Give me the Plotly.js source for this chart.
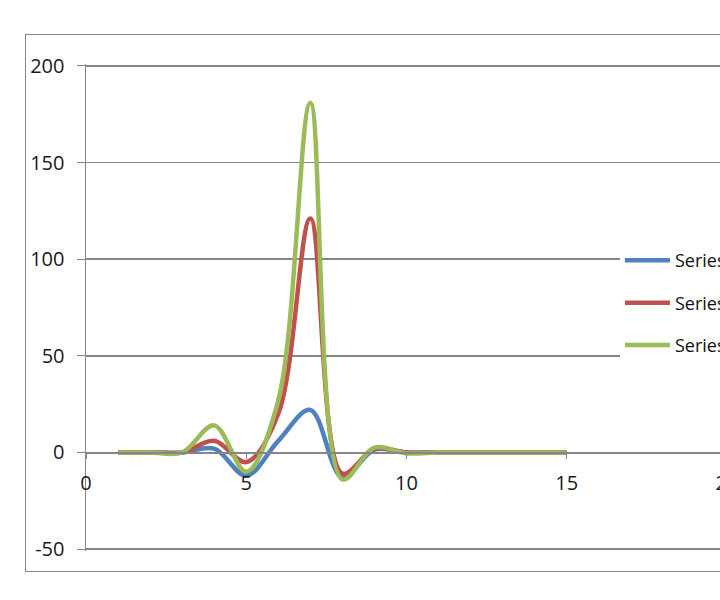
<!DOCTYPE html>
<html>
<head>
<meta charset="utf-8">
<script src="https://cdn.plot.ly/plotly-3.0.1.min.js"></script>
<style>
  html, body { margin: 0; padding: 0; width: 720px; height: 600px; overflow: hidden; background: #fff; }
  #frame { position: absolute; left: 25px; top: 34px; width: 780px; height: 536px; border: 1px solid #878787; }
  #chart { width: 780px; height: 536px; }
</style>
</head>
<body>
<div id="frame"><div id="chart"></div></div>
<script>
const xValues = [1, 2, 3, 4, 5, 6, 7, 8, 9, 10, 11, 12, 13, 14, 15];
const series1 = [0, 0, 0, 2, -12, 6, 22, -13, 1.5, 0, 0, 0, 0, 0, 0];
const series2 = [0, 0, 0, 6, -5, 20, 121, -11, 2, 0, 0, 0, 0, 0, 0];
const series3 = [0, 0, 0, 14, -10, 27, 181, -14, 2.5, -0.5, 0, 0, 0, 0, 0];
const seriesNames = ["Series1", "Series2", "Series3"];
const seriesColors = ["#4F81BD", "#C0504D", "#9BBB59"];
const xTicks = [0, 5, 10, 15, 20];
const yTicks = [-50, 0, 50, 100, 150, 200];

const allSeries = [series1, series2, series3];
const traces = allSeries.map((ys, i) => ({
  type: "scatter",
  mode: "lines",
  x: xValues,
  y: ys,
  name: seriesNames[i],
  legendgroup: "g" + i,
  line: { color: seriesColors[i], width: 4.5, shape: "spline", smoothing: 1 }
}));

const font = "'Open Sans', 'Noto Sans', sans-serif";
const layout = {
  width: 780,
  height: 536,
  margin: { l: 60, r: 79, t: 29, b: 20 },
  paper_bgcolor: "#ffffff",
  plot_bgcolor: "#ffffff",
  font: { family: font, size: 18, color: "#1a1a1a" },
  showlegend: true,
  legend: {
    x: 0.833, xanchor: "left",
    y: 0.509, yanchor: "middle",
    bgcolor: "#ffffff",
    traceorder: "grouped",
    tracegroupgap: 16,
    itemwidth: 45,
    font: { family: font, size: 18, color: "#111111" }
  },
  xaxis: {
    range: [0, 20],
    tickvals: xTicks,
    ticktext: xTicks.map(String),
    showgrid: false,
    zeroline: false,
    showline: true,
    linecolor: "#868686",
    linewidth: 1.5,
    ticks: "outside",
    ticklen: 5,
    tickcolor: "#868686",
    ticklabelstandoff: 7,
    anchor: "free",
    position: 51 / 252,
    tickfont: { family: font, size: 20, color: "#1a1a1a" }
  },
  yaxis: {
    range: [-51, 201],
    tickvals: yTicks,
    ticktext: yTicks.map(String),
    showgrid: true,
    gridcolor: "#868686",
    gridwidth: 1.5,
    zeroline: false,
    showline: true,
    linecolor: "#868686",
    linewidth: 1.5,
    ticks: "outside",
    ticklen: 8,
    tickcolor: "#868686",
    ticklabelstandoff: 8,
    tickfont: { family: font, size: 20, color: "#1a1a1a" }
  }
};

Plotly.newPlot("chart", traces, layout, { staticPlot: true, displayModeBar: false });
</script>
</body>
</html>
